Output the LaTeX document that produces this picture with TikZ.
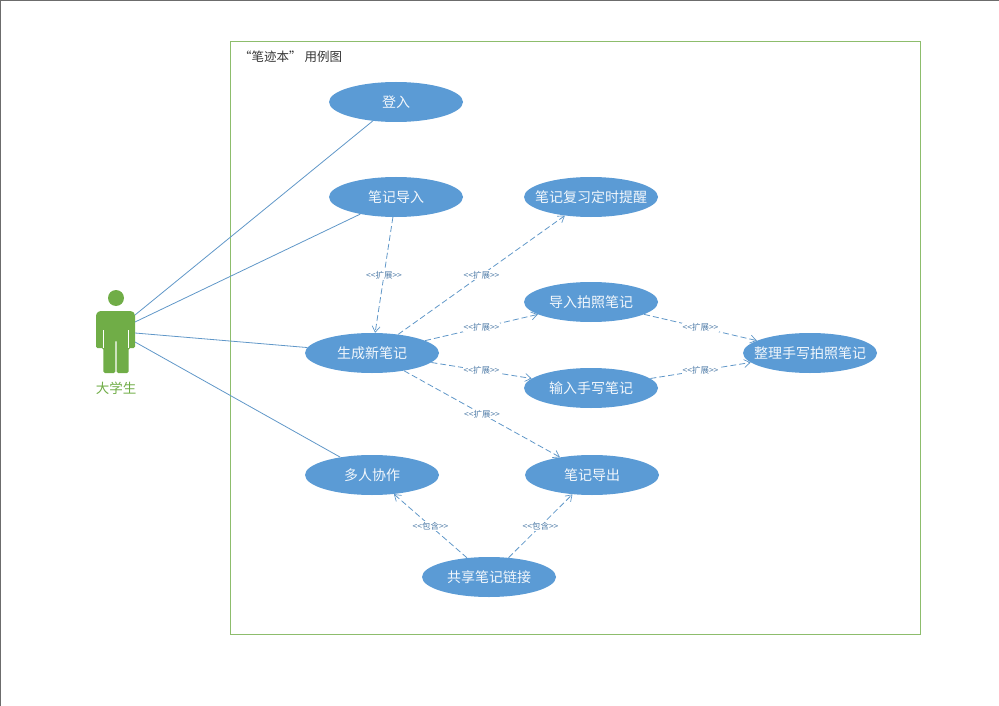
\documentclass[tikz,border=0pt]{standalone}
\usepackage{fontspec}
\setmainfont{Noto Sans CJK SC}
\usetikzlibrary{shapes.geometric,arrows.meta}
\definecolor{ubl}{HTML}{5B9BD5}
\definecolor{ugr}{HTML}{70AD47}
\definecolor{ulb}{HTML}{4F7CA8}
\newcommand{\opnq}{<\kern0pt<}
\newcommand{\clsq}{>\kern0pt>}
\newcommand{\uctext}[1]{\makebox[0pt][c]{#1}}
\tikzset{
  x=1pt,y=-1pt,
  usecase/.style={ellipse,fill=ubl,draw=none,minimum width=134pt,minimum height=40pt,inner sep=0pt,text=white!92!ubl,font=\fontsize{14}{16}\selectfont},
  assoc/.style={draw=ubl!85!gray,line width=0.8pt},
  rel/.style={draw=ubl!85!gray,line width=0.8pt,dash pattern=on 6pt off 3pt,-{Straight Barb[length=6pt,width=8pt,line width=0.7pt]}},
  rellabel/.style={midway,fill=white,inner sep=1pt,text=ulb,font=\fontsize{8.5}{10}\selectfont},
}
\begin{document}
\begin{tikzpicture}
\useasboundingbox (0,0) rectangle (999,706);
% page edge
\draw[gray!85!black,line width=1.4pt] (0.5,706) -- (0.5,0.5) -- (999,0.5);
% system boundary
\node[draw=ugr!80!white,line width=0.9pt,minimum width=690pt,minimum height=593pt,inner sep=0pt] (frame) at (575.5,338) {};
\node[anchor=west,inner sep=0pt,text=black!80,font=\fontsize{12.5}{14}\selectfont] (title) at (239,56.5) {“笔迹本” 用例图};
% actor
\fill[ugr] (116,298) circle[radius=8];
\fill[ugr,rounded corners=1.5pt] (99,311) -- (132,311) -- (135,314) -- (135,348) -- (128.7,348) -- (128.7,373) -- (116.7,373) -- (116.7,340) -- (115.3,340) -- (115.3,373) -- (103.3,373) -- (103.3,348) -- (96,348) -- (96,314) -- cycle;
\draw[white,line width=0.9pt] (103.6,330) -- (103.6,348) (128.4,330) -- (128.4,348);
\node[inner sep=0pt,text=ugr,font=\fontsize{13.5}{15}\selectfont] (actorlabel) at (116,388) {大学生};
\coordinate (a1) at (135,315);
\coordinate (a2) at (135,322);
\coordinate (a3) at (135,333);
\coordinate (a4) at (135,342);
% use cases
\node[usecase] (login) at (396,102) {\uctext{登入}};
\node[usecase] (import) at (396,197) {\uctext{笔记导入}};
\node[usecase] (remind) at (591,197) {\uctext{笔记复习定时提醒}};
\node[usecase] (photo) at (591,302) {\uctext{导入拍照笔记}};
\node[usecase] (create) at (372,353) {\uctext{生成新笔记}};
\node[usecase] (hand) at (591,388) {\uctext{输入手写笔记}};
\node[usecase] (tidy) at (810,353) {\uctext{整理手写拍照笔记}};
\node[usecase] (collab) at (372,475) {\uctext{多人协作}};
\node[usecase] (export) at (592,475) {\uctext{笔记导出}};
\node[usecase] (share) at (489,577) {\uctext{共享笔记链接}};
% associations
\draw[assoc] (a1) -- (login);
\draw[assoc] (a2) -- (import);
\draw[assoc] (a3) -- (create);
\draw[assoc] (a4) -- (collab);
% extend / include
\draw[rel] (import) -- node[rellabel] {\opnq 扩展\clsq} (create);
\draw[rel] (create) -- node[rellabel] {\opnq 扩展\clsq} (remind);
\draw[rel] (create) -- node[rellabel] {\opnq 扩展\clsq} (photo);
\draw[rel] (create) -- node[rellabel] {\opnq 扩展\clsq} (hand);
\draw[rel] (create) -- node[rellabel] {\opnq 扩展\clsq} (export);
\draw[rel] (photo) -- node[rellabel] {\opnq 扩展\clsq} (tidy);
\draw[rel] (hand) -- node[rellabel] {\opnq 扩展\clsq} (tidy);
\draw[rel] (share) -- node[rellabel] {\opnq 包含\clsq} (collab);
\draw[rel] (share) -- node[rellabel] {\opnq 包含\clsq} (export);
\end{tikzpicture}
\end{document}
